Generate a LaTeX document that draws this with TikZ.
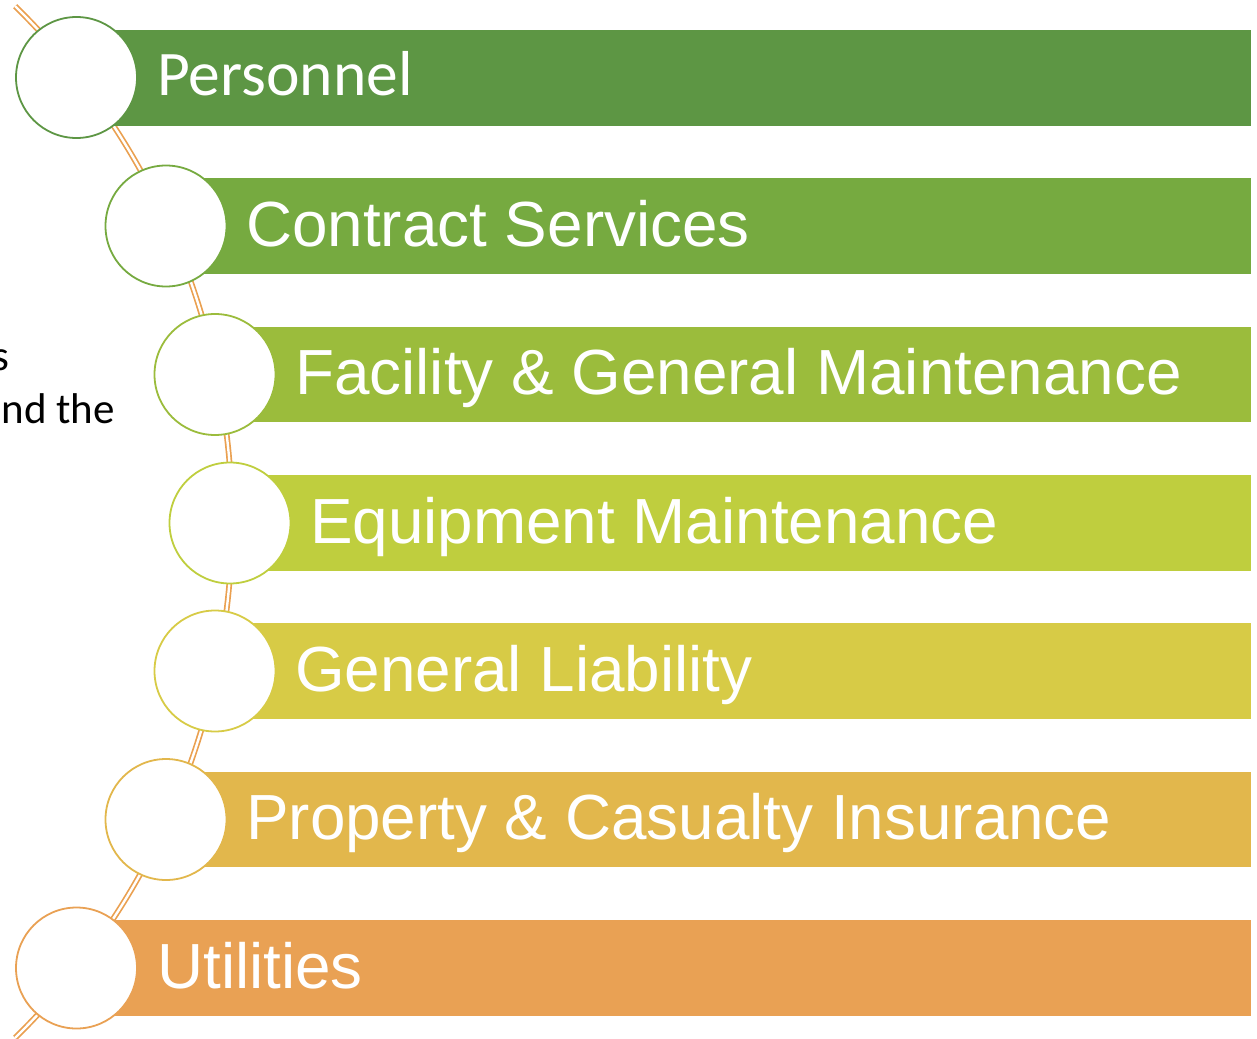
\documentclass[tikz,border=0pt]{standalone}
\usepackage{fontspec}
\setmainfont{Liberation Sans}
\newfontfamily\calibri{Carlito}

\definecolor{stepA}{RGB}{93,150,68}
\definecolor{stepB}{RGB}{118,170,64}
\definecolor{stepC}{RGB}{155,188,60}
\definecolor{stepD}{RGB}{191,206,62}
\definecolor{stepE}{RGB}{215,203,70}
\definecolor{stepF}{RGB}{226,183,76}
\definecolor{stepG}{RGB}{233,161,84}
\definecolor{railorange}{RGB}{234,160,80}

\tikzset{
  ring/.style={circle, draw, line width=1.8pt, fill=white, minimum size=121pt, inner sep=0pt},
  tag/.style={anchor=base west, inner sep=0pt, text=white, font=\fontsize{63.8}{70}\selectfont},
  aside/.style={anchor=base east, inner sep=0pt, text=black, font=\calibri\fontsize{43}{50}\selectfont},
}

\begin{document}
\begin{tikzpicture}[x=1pt,y=-1pt]
  \useasboundingbox (0,0) rectangle (1257,1038);

  % bits of the text box on the left
  \node [aside] (asideA) at (10,370) {s};
  \node [aside] (asideB) at (115,423) {nd the};

  % orange rail behind the circles
  \coordinate (hub) at (-490,522);
  \draw [railorange, line width=1.7pt, double=white, double distance=2.4pt]
    (hub) ++(45.6:722pt) arc [start angle=45.6, end angle=-45.6, radius=722pt];

  % bars
  \fill [stepA] (76,30) rectangle (1251,126);
  \fill [stepB] (166,178) rectangle (1251,274);
  \fill [stepC] (215,327) rectangle (1251,422);
  \fill [stepD] (230,475) rectangle (1251,571);
  \fill [stepE] (215,623) rectangle (1251,719);
  \fill [stepF] (166,772) rectangle (1251,867);
  \fill [stepG] (76,920) rectangle (1251,1016);

  % circles
  \node [ring, draw=stepA] (ringA) at (76.5,77.5) {};
  \node [ring, draw=stepB] (ringB) at (166,226) {};
  \node [ring, draw=stepC] (ringC) at (215,374.5) {};
  \node [ring, draw=stepD] (ringD) at (230,523) {};
  \node [ring, draw=stepE] (ringE) at (215,671) {};
  \node [ring, draw=stepF] (ringF) at (166,819.5) {};
  \node [ring, draw=stepG] (ringG) at (76.5,968) {};

  % labels
  \node [tag, font=\calibri\fontsize{63.5}{70}\selectfont] (personnel) at (157,96) {Personnel};
  \node [tag] (contract) at (246,246) {Contract Services};
  \node [tag] (facility) at (295,394.5) {Facility \& General Maintenance};
  \node [tag] (equipment) at (310,543) {Equipment Maintenance};
  \node [tag] (liability) at (295,691) {General Liability};
  \node [tag] (property) at (246,839.5) {Property \& Casualty Insurance};
  \node [tag] (utilities) at (157,988) {Utilities};
\end{tikzpicture}
\end{document}
